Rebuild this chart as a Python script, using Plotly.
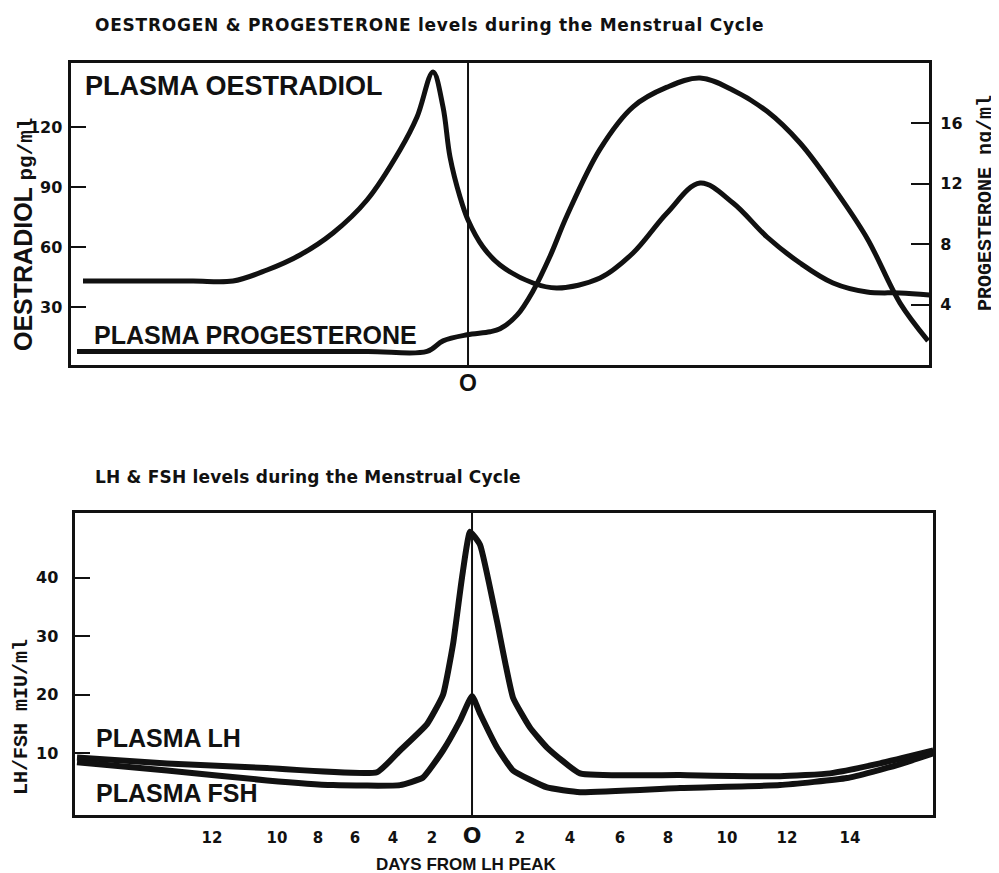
import plotly.graph_objects as go

# ---------------- data ----------------
# x in "axis units" (≈ days from LH peak, hand-drawn scale); LH peak at 0
oest_day = [-15.4, -13.0, -11.0, -9.4, -8.04, -6.72, -5.4, -4.04, -2.72, -2.04, -1.4, -1.0, -0.72,
            -0.32, 0.0, 0.6, 1.28, 2.6, 3.56, 5.28, 6.6, 7.96, 9.28, 10.6, 11.96, 13.28, 14.6,
            15.96, 17.28, 18.45]
oest_val = [43, 43, 43, 43, 48.5, 56, 67, 83.5, 108.5, 125, 147.5, 130, 105,
            85, 73.5, 60, 51, 42, 39.5, 44.5, 57, 77, 92, 82, 65, 52, 42,
            37.5, 37, 36]

prog_day = [-15.64, -12.0, -8.0, -4.0, -1.64, -1.0, -0.04, 0.88, 1.28, 1.96, 2.6, 3.28, 3.96,
            5.28, 6.6, 7.96, 9.28, 10.6, 11.96, 13.28, 14.6, 15.96, 17.28, 18.4]
prog_val = [0.9, 0.9, 0.9, 0.9, 0.9, 1.6, 2.0, 2.2, 2.4, 3.3, 4.9, 7.2, 9.9,
            14.3, 17.1, 18.4, 19.0, 18.2, 16.8, 14.7, 11.8, 8.4, 4.1, 1.6]

lh_day = [-15.8, -12.2, -8.2, -3.8, -2.88, -1.8, -1.16, -0.76, -0.4, -0.08, 0.32, 1.0, 1.64,
          2.32, 3.0, 4.32, 8.32, 12.32, 14.32, 16.32, 18.45]
lh_val = [9.3, 8.3, 7.5, 6.8, 10.5, 15, 20, 28.6, 40, 47.8, 45.6, 32.5, 19.5,
          14.4, 11, 6.6, 6.3, 6.1, 6.6, 8.3, 10.5]

fsh_day = [-15.8, -12.2, -8.2, -5.56, -2.88, -1.96, -1.16, -0.48, 0.0, 0.32, 1.0, 1.64, 3.0,
           4.32, 8.32, 12.32, 15.0, 17.0, 18.45]
fsh_val = [8.5, 7.1, 5.4, 4.6, 4.6, 5.9, 10.5, 15.6, 19.8, 16.8, 11, 7.1, 4.2,
           3.4, 4.1, 4.6, 5.8, 8, 10]

lh_peak_day = 0

day_tick_pos = [-10.4, -7.8, -6.16, -4.68, -3.16, -1.6, 0, 1.92, 3.92, 5.92, 7.84, 10.2, 12.6, 15.12]
day_tick_text = ["12", "10", "8", "6", "4", "2", '<span style="font-size:22px">O</span>',
                 "2", "4", "6", "8", "10", "12", "14"]

oest_ticks = [30, 60, 90, 120]
prog_ticks = [4, 8, 12, 16]
lhfsh_ticks = [10, 20, 30, 40]

# ---------------- figure ----------------
W, H = 999, 873
OFF = 8  # page body margin of the browser
def px_x(p):
    return (p - OFF) / W
def px_y(p):
    return 1 - (p - OFF) / H

BLACK = "#111111"
SANS = "Liberation Sans, Arial, sans-serif"
DEJA = "DejaVu Sans, sans-serif"
MONO = "Liberation Mono, Courier New, monospace"

fig = go.Figure()
fig.add_trace(go.Scatter(x=oest_day, y=oest_val, mode="lines", xaxis="x", yaxis="y",
                         line=dict(color=BLACK, width=5, shape="spline", smoothing=1.0)))
fig.add_trace(go.Scatter(x=prog_day, y=prog_val, mode="lines", xaxis="x", yaxis="y2",
                         line=dict(color=BLACK, width=5, shape="spline", smoothing=1.0)))
fig.add_trace(go.Scatter(x=lh_day, y=lh_val, mode="lines", xaxis="x2", yaxis="y3",
                         line=dict(color=BLACK, width=6, shape="spline", smoothing=0.4)))
fig.add_trace(go.Scatter(x=fsh_day, y=fsh_val, mode="lines", xaxis="x2", yaxis="y3",
                         line=dict(color=BLACK, width=6, shape="spline", smoothing=0.4)))

xrange = [-15.9, 18.45]
axis_common = dict(showgrid=False, zeroline=False, showline=True, mirror=True,
                   linecolor=BLACK, linewidth=3)

fig.update_layout(
    width=W, height=H, autosize=False,
    margin=dict(l=0, r=0, t=0, b=0),
    paper_bgcolor="white", plot_bgcolor="white",
    showlegend=False,
    xaxis=dict(domain=[px_x(70.5), px_x(929.3)], range=xrange, anchor="y",
               tickvals=[lh_peak_day], ticktext=["O"], ticks="",
               tickfont=dict(family=SANS, size=23, color=BLACK, weight="bold"), ticklabelstandoff=-5,
               **axis_common),
    yaxis=dict(domain=[px_y(365), px_y(63)], range=[1, 152], anchor="x",
               tickvals=oest_ticks, ticks="inside", ticklen=15, tickwidth=2, tickcolor=BLACK,
               tickfont=dict(family=DEJA, size=16, color=BLACK, weight="bold"),
               ticklabelstandoff=2, **axis_common),
    yaxis2=dict(overlaying="y", side="right", range=[0, 20], anchor="x",
                tickvals=prog_ticks, ticks="inside", ticklen=18, tickwidth=2, tickcolor=BLACK,
                tickfont=dict(family=DEJA, size=16, color=BLACK, weight="bold"),
                ticklabelstandoff=10, showgrid=False, zeroline=False, showline=False),
    xaxis2=dict(domain=[px_x(74.5), px_x(933.3)], range=xrange, anchor="y3",
                tickvals=day_tick_pos, ticktext=day_tick_text, ticks="",
                tickfont=dict(family=DEJA, size=15, color=BLACK, weight="bold"),
                ticklabelstandoff=7, **axis_common),
    yaxis3=dict(domain=[px_y(815), px_y(513)], range=[-0.5, 51], anchor="x2",
                tickvals=lhfsh_ticks, ticks="inside", ticklen=15, tickwidth=2, tickcolor=BLACK,
                tickfont=dict(family=DEJA, size=16, color=BLACK, weight="bold"),
                ticklabelstandoff=10, **axis_common),
)

# LH-peak reference lines
fig.add_shape(type="line", xref="x", yref="y domain", x0=lh_peak_day, x1=lh_peak_day, y0=0, y1=1,
              line=dict(color=BLACK, width=2))
fig.add_shape(type="line", xref="x2", yref="y3 domain", x0=lh_peak_day, x1=lh_peak_day, y0=0, y1=1,
              line=dict(color=BLACK, width=2))

def ann(text, x, y, size, family=SANS, xanchor="left", angle=0, bold=True):
    fig.add_annotation(text=text, x=px_x(x), y=px_y(y), xref="paper", yref="paper",
                       xanchor=xanchor, yanchor="middle", showarrow=False, textangle=angle,
                       font=dict(family=family, size=size, color=BLACK,
                                 weight="bold" if bold else "normal"))

# titles
ann('<span style="letter-spacing:0.75px">OESTROGEN &amp; PROGESTERONE levels during the Menstrual Cycle</span>',
    93, 25, 17, family=DEJA)
ann('<span style="letter-spacing:0.2px">LH &amp; FSH levels during the Menstrual Cycle</span>',
    93, 477, 17, family=DEJA)

# curve labels
ann("PLASMA OESTRADIOL", 83, 86, 27)
ann("PLASMA PROGESTERONE", 92, 335, 25)
ann("PLASMA LH", 94, 738, 25)
ann("PLASMA FSH", 94, 793, 25)

# axis titles
ann('OESTRADIOL <span style="font-family:Liberation Mono, monospace;font-size:21px">pg/ml</span>',
    24, 235, 25, xanchor="center", angle=-90)
ann("PROGESTERONE ng/ml", 986, 203, 20, family=MONO, xanchor="center", angle=-90)
ann("LH/FSH mIU/ml", 21, 717, 20, family=MONO, xanchor="center", angle=-90)
ann("DAYS FROM LH PEAK", 466, 864, 17, xanchor="center")

fig.write_html("out.html")
